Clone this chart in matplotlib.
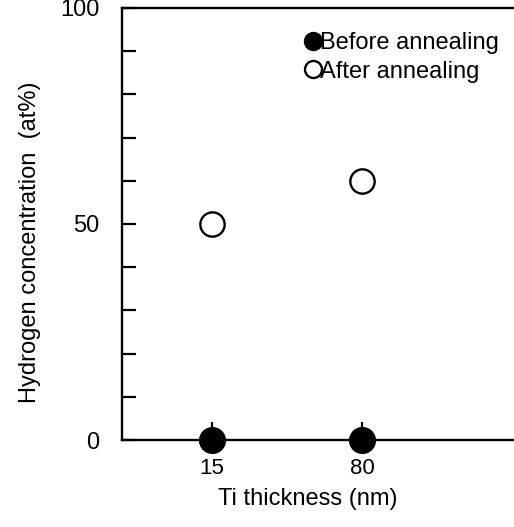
import numpy as np
import matplotlib.pyplot as plt

plt.rcParams['font.family'] = ['Liberation Sans', 'DejaVu Sans']

thickness = ["15", "80"]
before = [0, 0]
after = [50, 60]
yticks = [0, 10, 20, 30, 40, 50, 60, 70, 80, 90, 100]
ylabels = ["0", "", "", "", "", "50", "", "", "", "", "100"]

fig = plt.figure(figsize=(5.14, 5.27), dpi=100)
ax = fig.add_axes([0.237, 0.165, 0.763, 0.82])

x = np.arange(len(thickness))
ax.plot(x, before, "o", color="black", markersize=18.5, clip_on=False, zorder=5,
        label="Before annealing")
ax.plot(x, after, "o", markerfacecolor="white", markeredgecolor="black",
        markeredgewidth=1.7, markersize=17.5, clip_on=False, zorder=5,
        label="After annealing")

ax.set_xlim(-0.6, 2.01)
ax.set_ylim(0, 100)
ax.set_xticks(x)
ax.set_xticklabels(thickness)
ax.set_yticks(yticks)
ax.set_yticklabels(ylabels)

ax.tick_params(axis="y", direction="in", length=10, width=1.6, labelsize=17, pad=16)
ax.tick_params(axis="x", direction="in", length=13, width=1.6, labelsize=16, pad=13)

for s in ["left", "bottom", "top"]:
    ax.spines[s].set_linewidth(1.7)
ax.spines["right"].set_visible(False)

ax.set_xlabel("Ti thickness (nm)", fontsize=17)
ax.set_ylabel("Hydrogen concentration  (at%)", fontsize=17)
ax.xaxis.set_label_coords(0.475, -0.11)
ax.yaxis.set_label_coords(-0.205, 0.458)

leg = ax.legend(loc="upper left", bbox_to_anchor=(0.425, 0.988), frameon=False,
                fontsize=17, markerscale=0.7, handlelength=0.5,
                handletextpad=0.05, labelspacing=0.28, borderpad=0.3)

fig.savefig("out.png", dpi=100)
